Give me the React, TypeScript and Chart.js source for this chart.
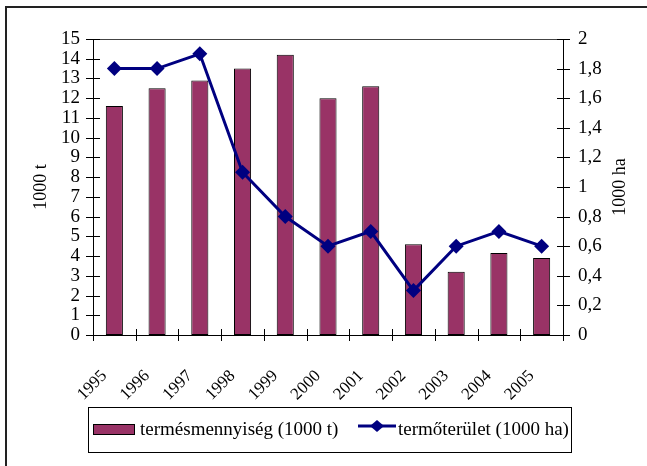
import React, { useEffect, useRef } from "react";
import { Chart, registerables } from "chart.js";

Chart.register(...registerables);

const years = ["1995", "1996", "1997", "1998", "1999", "2000", "2001", "2002", "2003", "2004", "2005"];
const yieldValues = [11.6, 12.5, 12.9, 13.5, 14.2, 12.0, 12.6, 4.6, 3.2, 4.15, 3.9];
const areaValues = [1.8, 1.8, 1.9, 1.1, 0.8, 0.6, 0.7, 0.3, 0.6, 0.7, 0.6];
const leftTitle = "1000 t";
const rightTitle = "1000 ha";
const barLabel = "termésmennyiség (1000 t)";
const lineLabel = "termőterület (1000 ha)";

const FONT = "'Liberation Serif', 'Times New Roman', serif";
const BAR_COLOR = "#993366";
const LINE_COLOR = "#000080";

function seg(ctx: CanvasRenderingContext2D, x1: number, y1: number, x2: number, y2: number) {
  ctx.beginPath();
  ctx.moveTo(x1, y1);
  ctx.lineTo(x2, y2);
  ctx.stroke();
}

function diamond(ctx: CanvasRenderingContext2D, cx: number, cy: number, hw: number, hh: number) {
  ctx.beginPath();
  ctx.moveTo(cx, cy - hh);
  ctx.lineTo(cx + hw, cy);
  ctx.lineTo(cx, cy + hh);
  ctx.lineTo(cx - hw, cy);
  ctx.closePath();
  ctx.fill();
}

const decor = {
  id: "decor",
  beforeDraw(chart: any) {
    const ctx = chart.ctx as CanvasRenderingContext2D;
    ctx.save();
    ctx.fillStyle = "#ffffff";
    ctx.fillRect(0, 0, chart.width, chart.height);
    ctx.strokeStyle = "#222";
    ctx.lineWidth = 2;
    ctx.beginPath();
    ctx.moveTo(6, chart.height + 4);
    ctx.lineTo(6, 7);
    ctx.lineTo(chart.width + 4, 7);
    ctx.stroke();
    ctx.restore();
  },
  afterDraw(chart: any) {
    const ctx = chart.ctx as CanvasRenderingContext2D;
    const a = chart.chartArea;
    const y = chart.scales.y;
    const y1 = chart.scales.y1;
    ctx.save();
    ctx.lineWidth = 1;
    ctx.strokeStyle = "#444";
    seg(ctx, a.left, Math.round(a.top) + 0.5, a.right, Math.round(a.top) + 0.5);
    ctx.strokeStyle = "#000";
    y.ticks.forEach((t: any) => {
      const py = Math.round(y.getPixelForValue(t.value)) + 0.5;
      seg(ctx, a.left - 7, py, a.left + 7, py);
    });
    y1.ticks.forEach((t: any) => {
      const py = Math.round(y1.getPixelForValue(t.value)) + 0.5;
      seg(ctx, a.right - 6, py, a.right + 7, py);
    });
    const n = years.length;
    const w = (a.right - a.left) / n;
    for (let k = 0; k <= n; k++) {
      const px = Math.round(a.left + k * w) + 0.5;
      seg(ctx, px, a.bottom - 6, px, a.bottom + 6);
    }
    ctx.fillStyle = "#000";
    ctx.font = `18px ${FONT}`;
    ctx.textAlign = "center";
    ctx.textBaseline = "middle";
    const cy = (a.top + a.bottom) / 2;
    ctx.save();
    ctx.translate(41, cy);
    ctx.rotate(-Math.PI / 2);
    ctx.fillText(leftTitle, 0, 0);
    ctx.restore();
    ctx.save();
    ctx.translate(620, cy);
    ctx.rotate(-Math.PI / 2);
    ctx.fillText(rightTitle, 0, 0);
    ctx.restore();
    ctx.strokeStyle = "#000";
    ctx.lineWidth = 1;
    ctx.strokeRect(88.5, 407.5, 483, 45);
    const ly = 429;
    ctx.fillStyle = BAR_COLOR;
    ctx.fillRect(93, ly - 5, 42, 10);
    ctx.strokeRect(93.5, ly - 5 + 0.5, 41, 10);
    ctx.fillStyle = "#000";
    ctx.font = `19px ${FONT}`;
    ctx.textAlign = "left";
    ctx.textBaseline = "middle";
    ctx.fillText(barLabel, 140, ly + 1);
    ctx.strokeStyle = LINE_COLOR;
    ctx.lineWidth = 3;
    seg(ctx, 358, ly - 3, 396, ly - 3);
    ctx.fillStyle = LINE_COLOR;
    diamond(ctx, 377, ly - 3, 7, 6);
    ctx.fillStyle = "#000";
    ctx.fillText(lineLabel, 398, ly + 1);
    ctx.restore();
  },
};

export default function App() {
  const ref = useRef<HTMLCanvasElement | null>(null);
  useEffect(() => {
    if (!ref.current) return;
    const fmt = (v: any) => String(Math.round(Number(v) * 10) / 10).replace(".", ",");
    const chart = new Chart(ref.current, {
      type: "bar",
      data: {
        labels: years,
        datasets: [
          {
            type: "line",
            label: lineLabel,
            data: areaValues,
            yAxisID: "y1",
            borderColor: LINE_COLOR,
            backgroundColor: LINE_COLOR,
            borderWidth: 3,
            pointStyle: "rectRot",
            pointRadius: 7.5,
            pointBorderWidth: 0,
            pointBackgroundColor: LINE_COLOR,
            tension: 0,
            order: 0,
          } as any,
          {
            type: "bar",
            label: barLabel,
            data: yieldValues,
            yAxisID: "y",
            backgroundColor: BAR_COLOR,
            borderColor: "#000",
            borderWidth: 1,
            borderSkipped: false,
            barPercentage: 0.4,
            categoryPercentage: 1,
            order: 1,
          } as any,
        ],
      },
      options: {
        animation: false,
        responsive: false,
        maintainAspectRatio: false,
        layout: { padding: { top: 39, left: 0, right: 0, bottom: 0 } },
        plugins: { legend: { display: false }, tooltip: { enabled: false } },
        scales: {
          x: {
            offset: true,
            grid: { display: false, drawTicks: false, offset: true },
            border: { display: true, color: "#000", width: 1 },
            ticks: {
              color: "#000",
              font: { family: FONT, size: 17 },
              maxRotation: 45,
              minRotation: 45,
              padding: 31,
              labelOffset: -10,
              autoSkip: false,
            },
            afterFit: (s: any) => {
              s.height = 131;
            },
          },
          y: {
            position: "left",
            min: 0,
            max: 15,
            grid: { display: false, drawTicks: false },
            border: { display: true, color: "#000", width: 1 },
            ticks: {
              stepSize: 1,
              color: "#000",
              font: { family: FONT, size: 19 },
              padding: 13,
              autoSkip: false,
            },
            afterFit: (s: any) => {
              s.width = 93;
            },
          },
          y1: {
            position: "right",
            min: 0,
            max: 2,
            grid: { display: false, drawTicks: false },
            border: { display: true, color: "#000", width: 1 },
            ticks: {
              stepSize: 0.2,
              color: "#000",
              font: { family: FONT, size: 19 },
              padding: 15,
              autoSkip: false,
              callback: (v: any) => fmt(v),
            },
            afterFit: (s: any) => {
              s.width = 84;
            },
          },
        },
      },
      plugins: [decor],
    });
    return () => chart.destroy();
  }, []);
  return (
    <div style={{ position: "fixed", left: 0, top: 0, width: 647, height: 466, background: "#fff" }}>
      <canvas ref={ref} width={647} height={466} style={{ display: "block", width: 647, height: 466 }} />
    </div>
  );
}
